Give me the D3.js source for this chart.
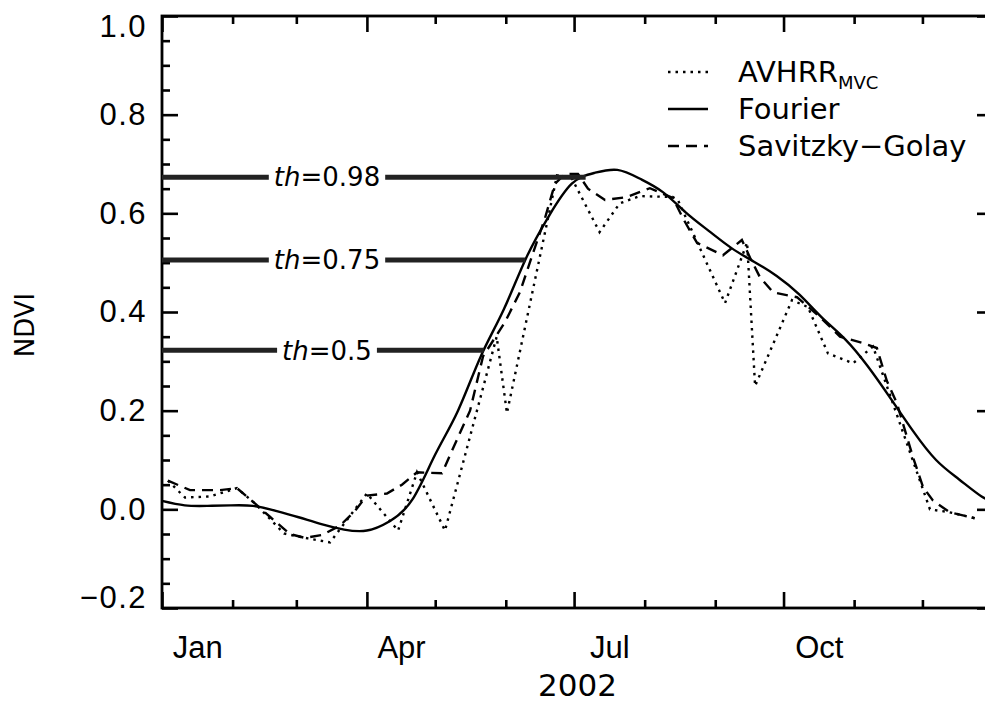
<!DOCTYPE html>
<html>
<head>
<meta charset="utf-8">
<title>NDVI 2002</title>
<script src="https://d3js.org/d3.v7.min.js"></script>
<style>
  body { margin: 0; background: #fff; }
  svg { display: block; font-family: "DejaVu Sans", sans-serif; }
  .axis path, .axis line { stroke: #000; stroke-width: 2.6; }
  .axis text { font-size: 31px; fill: #000; }
  .ylab text { letter-spacing: 1.5px; }
</style>
</head>
<body>
<script>
// --- data (day of year 2002, NDVI) ---
var mvcDays = [2.6, 10.1, 21.1, 32.9, 40.8, 53.6, 64.1, 73.8, 90.0, 103.7, 112.0, 124.3, 147.0, 151.5,
               173.5, 180.1, 192.2, 201.0, 209.8, 224.3, 226.6, 247.3, 257.0, 260.5, 276.7, 283.7,
               292.5, 303.5, 312.3, 337.3, 346.0, 357.0];
var mvcVals = [0.058, 0.024, 0.026, 0.043, 0.012, -0.049, -0.059, -0.067, 0.032, -0.043, 0.075, -0.043, 0.35, 0.195,
               0.677, 0.67, 0.562, 0.62, 0.635, 0.633, 0.627, 0.418, 0.541, 0.25, 0.424, 0.41,
               0.316, 0.296, 0.33, 0.0, -0.006, -0.018];

var sgDays = [2.6, 12.3, 25.5, 32.9, 40.8, 47.4, 56.2, 62.8, 70.3, 78.2, 84.8, 90.0, 98.8, 105.4, 112.0,
              123.0, 126.5, 135.3, 141.0, 150.7, 157.2, 163.0, 168.2, 172.6, 177.0, 182.7, 187.1,
              194.6, 204.2, 214.3, 224.4, 228.8, 235.0, 246.4, 254.7, 258.3, 262.7, 268.4, 278.9,
              289.0, 297.8, 307.9, 314.0, 318.4, 322.8, 329.9, 334.3, 338.6, 346.0, 357.0];
var sgVals = [0.058, 0.039, 0.039, 0.043, 0.012, -0.015, -0.05, -0.058, -0.052, -0.033, -0.003, 0.028, 0.032, 0.05, 0.075,
              0.073, 0.11, 0.2, 0.31, 0.38, 0.44, 0.52, 0.59, 0.66, 0.68, 0.68, 0.65,
              0.627, 0.633, 0.651, 0.631, 0.59, 0.54, 0.515, 0.546, 0.51, 0.47, 0.44, 0.43,
              0.39, 0.35, 0.337, 0.327, 0.26, 0.215, 0.105, 0.045, 0.018, -0.006, -0.018];

var fourierDays = [0, 10, 20, 30, 40, 50, 60, 70, 80, 90, 100, 110, 120, 130, 140, 150, 160, 170, 180,
                   190, 200, 210, 220, 230, 240, 250, 260, 270, 280, 290, 300, 310, 320, 330, 340, 350, 360, 365];
var fourierVals = [0.017, 0.008, 0.007, 0.008, 0.007, -0.003, -0.016, -0.030, -0.041, -0.043, -0.024, 0.020, 0.111,
                   0.200, 0.310, 0.404, 0.510, 0.595, 0.660, 0.682, 0.688, 0.670, 0.643, 0.602, 0.565, 0.530,
                   0.502, 0.473, 0.435, 0.388, 0.345, 0.290, 0.225, 0.158, 0.100, 0.061, 0.026, 0.018];

var thresholds = [0.98, 0.75, 0.5];
var thText = ["0.98", "0.75", "0.5"];
var yMajor = [-0.2, 0.0, 0.2, 0.4, 0.6, 0.8, 1.0];
var majorMonths = ["Jan", "Apr", "Jul", "Oct"];
var legendNames = ["AVHRR", "Fourier", "Savitzky\u2212Golay"];

var W = 985, H = 703;
var L = 162, R = 993, T = 16, B = 608;

var svg = d3.select("body").append("svg").attr("width", W).attr("height", H);

var t0 = Date.UTC(2002, 0, 1);
function dayDate(d) { return new Date(t0 + d * 864e5); }
var x = d3.scaleUtc().domain([dayDate(0), new Date(Date.UTC(2003, 0, 1))]).range([L, R]);
var y = d3.scaleLinear().domain([-0.2, 1.0]).range([B, T]);

var months = d3.utcMonth.range(dayDate(0), new Date(Date.UTC(2003, 0, 1)));
var majorTicks = months.filter(function(m) { return m.getUTCMonth() % 3 === 0; });
var minorTicks = months.filter(function(m) { return m.getUTCMonth() % 3 !== 0; });
var yMinor = d3.range(0, 24).map(function(i) { return -0.2 + i * 0.05; }).filter(function(v, i) { return i % 4 !== 0; });

// axes: inward ticks
function ax(g, axis) { g.call(axis); g.selectAll(".domain").remove(); }
// bottom
svg.append("g").attr("class", "axis").attr("transform", "translate(0," + B + ")")
  .call(function(g) { ax(g, d3.axisBottom(x).tickValues(majorTicks).tickSize(-16).tickFormat("")); });
svg.append("g").attr("class", "axis").attr("transform", "translate(0," + B + ")")
  .call(function(g) { ax(g, d3.axisBottom(x).tickValues(minorTicks).tickSize(-8).tickFormat("")); });
// top
svg.append("g").attr("class", "axis").attr("transform", "translate(0," + T + ")")
  .call(function(g) { ax(g, d3.axisTop(x).tickValues(majorTicks).tickSize(-16).tickFormat("")); });
svg.append("g").attr("class", "axis").attr("transform", "translate(0," + T + ")")
  .call(function(g) { ax(g, d3.axisTop(x).tickValues(minorTicks).tickSize(-8).tickFormat("")); });
// left
svg.append("g").attr("class", "axis ylab").attr("transform", "translate(" + L + ",0)")
  .call(function(g) {
    ax(g, d3.axisLeft(y).tickValues(yMajor).tickSize(-16).tickPadding(15).tickFormat(d3.format(".1f")));
    // end labels are kept inside the frame, as in the original
    g.selectAll(".tick text").attr("y", function(d) { return d === 1.0 ? 11 : (d === -0.2 ? -10 : 0); });
  });
svg.append("g").attr("class", "axis").attr("transform", "translate(" + L + ",0)")
  .call(function(g) { ax(g, d3.axisLeft(y).tickValues(yMinor).tickSize(-8).tickFormat("")); });
// right
svg.append("g").attr("class", "axis").attr("transform", "translate(" + R + ",0)")
  .call(function(g) { ax(g, d3.axisRight(y).tickValues(yMajor).tickSize(-16).tickFormat("")); });
svg.append("g").attr("class", "axis").attr("transform", "translate(" + R + ",0)")
  .call(function(g) { ax(g, d3.axisRight(y).tickValues(yMinor).tickSize(-8).tickFormat("")); });
// month labels at mid-month
var labelDates = majorTicks.map(function(m) {
  var n = d3.utcMonth.offset(m, 1);
  return new Date((+m + +n) / 2);
});
svg.append("g").attr("class", "axis").attr("transform", "translate(0," + B + ")")
  .call(function(g) {
    ax(g, d3.axisBottom(x).tickValues(labelDates).tickSize(0).tickPadding(28)
      .tickFormat(function(d, i) { return majorMonths[i]; }));
    g.selectAll("line").remove();
  });
// frame
svg.append("rect").attr("x", L).attr("y", T).attr("width", R - L).attr("height", B - T)
  .attr("fill", "none").attr("stroke", "#000").attr("stroke-width", 2.8);

// axis titles
svg.append("text").attr("x", (L + R) / 2).attr("y", 696).attr("text-anchor", "middle")
  .attr("font-size", 31).text("2002");
svg.append("text").attr("transform", "translate(34,325) rotate(-90)").attr("text-anchor", "middle")
  .attr("font-size", 26).text("NDVI");

// series
function pts(days, vals) { return days.map(function(d, i) { return [dayDate(d), vals[i]]; }); }
var lineLin = d3.line().x(function(p) { return x(p[0]); }).y(function(p) { return y(p[1]); });
var lineSmooth = d3.line().x(function(p) { return x(p[0]); }).y(function(p) { return y(p[1]); }).curve(d3.curveNatural);

svg.append("path").datum(pts(mvcDays, mvcVals)).attr("d", lineLin)
  .attr("fill", "none").attr("stroke", "#000").attr("stroke-width", 2.4).attr("stroke-dasharray", "2.5,5");
svg.append("path").datum(pts(sgDays, sgVals)).attr("d", lineLin)
  .attr("fill", "none").attr("stroke", "#000").attr("stroke-width", 2.4).attr("stroke-dasharray", "11,7");
svg.append("path").datum(pts(fourierDays, fourierVals)).attr("d", lineSmooth)
  .attr("fill", "none").attr("stroke", "#000").attr("stroke-width", 2.4);

// thresholds: level = min + th*(max-min), line ends where Fourier rises through it
var fMin = d3.min(fourierVals), fMax = d3.max(fourierVals);
var peakIdx = fourierVals.indexOf(fMax);
thresholds.forEach(function(th, k) {
  var lv = fMin + th * (fMax - fMin);
  var endDay = null;
  for (var i = 1; i <= peakIdx; i++) {
    if (fourierVals[i - 1] < lv && fourierVals[i] >= lv) {
      var f = (lv - fourierVals[i - 1]) / (fourierVals[i] - fourierVals[i - 1]);
      endDay = fourierDays[i - 1] + f * (fourierDays[i] - fourierDays[i - 1]);
    }
  }
  var yy = y(lv), xe = x(dayDate(endDay));
  var g = svg.append("g");
  var txt = g.append("text").attr("x", 327).attr("y", yy).attr("dy", "0.36em")
    .attr("text-anchor", "middle").attr("font-size", 26);
  txt.append("tspan").attr("font-style", "italic").text("th");
  txt.append("tspan").text("=" + thText[k]);
  var w = txt.node().getComputedTextLength();
  g.insert("line", "text").attr("x1", L).attr("x2", 327 - w / 2 - 5).attr("y1", yy).attr("y2", yy)
    .attr("stroke", "#222").attr("stroke-width", 5);
  g.insert("line", "text").attr("x1", 327 + w / 2 + 5).attr("x2", xe).attr("y1", yy).attr("y2", yy)
    .attr("stroke", "#222").attr("stroke-width", 5);
});

// legend
var dashes = ["2.5,5", null, "11,7"];
legendNames.forEach(function(n, i) {
  var ly = 72 + i * 37;
  svg.append("line").attr("x1", 668).attr("x2", 708).attr("y1", ly).attr("y2", ly)
    .attr("stroke", "#000").attr("stroke-width", 2.4).attr("stroke-dasharray", dashes[i]);
  var t = svg.append("text").attr("x", 738).attr("y", ly).attr("dy", "0.36em").attr("font-size", 29).text(n);
  if (i === 0) t.append("tspan").attr("font-size", 18).attr("dy", 7).text("MVC");
});
</script>
</body>
</html>
